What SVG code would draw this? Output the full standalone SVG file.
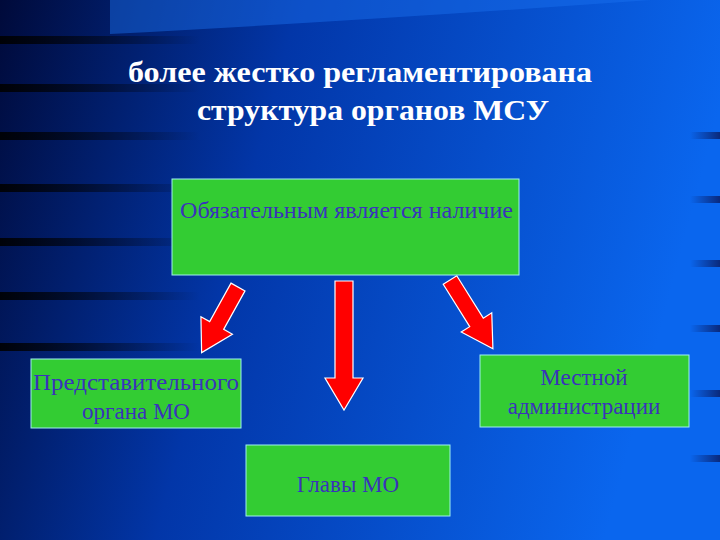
<svg xmlns="http://www.w3.org/2000/svg" width="720" height="540" viewBox="0 0 720 540">
<defs>
<linearGradient id="bg" x1="0" y1="0" x2="1" y2="0.2">
<stop offset="0" stop-color="#000a3a"/><stop offset="0.4" stop-color="#0236a8"/><stop offset="1" stop-color="#0a66ee"/>
</linearGradient>
<linearGradient id="st" x1="0" y1="0" x2="1" y2="0">
<stop offset="0" stop-color="#000" stop-opacity="0.9"/><stop offset="1" stop-color="#000" stop-opacity="0"/>
</linearGradient>
<linearGradient id="sr" x1="0" y1="0" x2="1" y2="0">
<stop offset="0" stop-color="#0a1a60" stop-opacity="0"/><stop offset="1" stop-color="#0a1a60" stop-opacity="0.8"/>
</linearGradient>
<style>
.box{fill:#33cc33;stroke:#a0f0f0;stroke-width:1}
.t{font-family:"Liberation Serif","DejaVu Serif",serif;font-size:23px;fill:#3a33bb;text-anchor:middle}
.h{font-family:"Liberation Serif","DejaVu Serif",serif;font-size:30px;font-weight:bold;fill:#fff}
.ar{fill:#ff0000;stroke:#fff;stroke-width:1.2}
</style>
</defs>
<rect width="720" height="540" fill="url(#bg)"/>
<path d="M110,34 Q380,20 720,-5 L720,0 L110,0Z" fill="#1a70f0" opacity="0.45"/>
<g fill="url(#st)">
<rect x="0" y="36" width="200" height="8"/><rect x="0" y="84" width="200" height="8"/>
<rect x="0" y="132" width="200" height="8"/><rect x="0" y="184" width="200" height="8"/>
<rect x="0" y="238" width="200" height="8"/><rect x="0" y="292" width="200" height="8"/>
<rect x="0" y="343" width="200" height="8"/>
</g>
<g fill="url(#sr)">
<rect x="690" y="132" width="30" height="7"/><rect x="690" y="196" width="30" height="7"/>
<rect x="690" y="260" width="30" height="7"/><rect x="690" y="325" width="30" height="7"/>
<rect x="690" y="390" width="30" height="7"/><rect x="690" y="455" width="30" height="7"/>
</g>
<g id="title">
<text class="h" x="128" y="82" textLength="464" lengthAdjust="spacingAndGlyphs">более жестко регламентирована</text>
<text class="h" x="197" y="120" textLength="352" lengthAdjust="spacingAndGlyphs">структура органов МСУ</text>
</g>
<g id="connectors">
<polygon class="ar" transform="translate(344,281)" points="-9,0 9,0 9,97 19,97 0,129 -19,97 -9,97"/>
<polygon class="ar" transform="translate(238,287) rotate(29)" points="-8,0 8,0 8,44 18,44 0,75 -18,44 -8,44"/>
<polygon class="ar" transform="translate(450,280) rotate(-32)" points="-8,0 8,0 8,50 18,50 0,81 -18,50 -8,50"/>
</g>
<g id="top"><rect class="box" x="172" y="179" width="347" height="96"/>
<text class="t" x="180" y="218" style="text-anchor:start" textLength="333" lengthAdjust="spacingAndGlyphs">Обязательным является наличие</text></g>
<g id="left"><rect class="box" x="31" y="359" width="210" height="69"/>
<text class="t" x="33" y="390" style="text-anchor:start" textLength="206" lengthAdjust="spacingAndGlyphs">Представительного</text><text class="t" x="136" y="419">органа МО</text></g>
<g id="right"><rect class="box" x="480" y="355" width="209" height="72"/>
<text class="t" x="584" y="385">Местной</text><text class="t" x="584" y="414">администрации</text></g>
<g id="bottom"><rect class="box" x="246" y="445" width="204" height="71"/>
<text class="t" x="348" y="492">Главы МО</text></g>
</svg>
